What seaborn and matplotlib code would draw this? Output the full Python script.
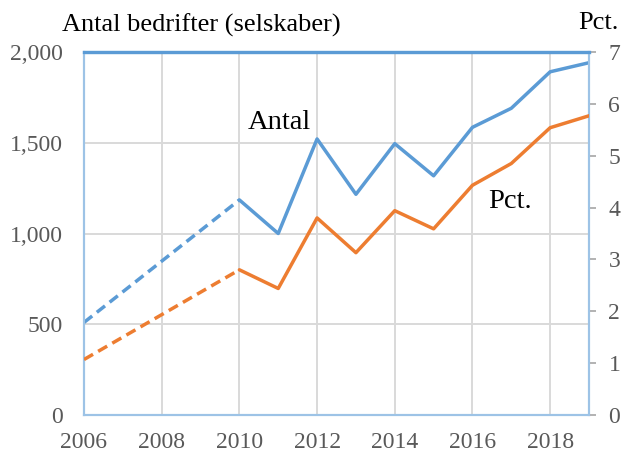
#!/usr/bin/env python3
"""
plot.py - Antal bedrifter og pct., 2006-2019 (two y-axes).
"""

import pandas as pd
import seaborn as sns
import matplotlib.pyplot as plt

# data
years_dashed = [2006, 2010]
antal_dashed = [510, 1185]
pct_dashed = [1.07, 2.80]

years = [2010, 2011, 2012, 2013, 2014, 2015, 2016, 2017, 2018, 2019]
antal = [1185, 1000, 1521, 1216, 1495, 1318, 1585, 1690, 1891, 1941]
pct = [2.80, 2.44, 3.80, 3.13, 3.94, 3.59, 4.43, 4.85, 5.54, 5.77]

x_ticks = [2006, 2008, 2010, 2012, 2014, 2016, 2018]
left_ticks = [0, 500, 1000, 1500, 2000]
left_labels = ["0", "500", "1,000", "1,500", "2,000"]
right_ticks = [0, 1, 2, 3, 4, 5, 6, 7]

BLUE = "#5B9BD5"
ORANGE = "#ED7D31"
GRID = "#D9D9D9"
SPINE = "#9DC3E6"
TXT = "#595959"

sns.set_style("white")
plt.rcParams["font.family"] = ["Liberation Serif", "DejaVu Serif"]

df = pd.DataFrame({"year": years, "antal": antal, "pct": pct})
dfd = pd.DataFrame({"year": years_dashed, "antal": antal_dashed, "pct": pct_dashed})

fig = plt.figure(figsize=(6.24, 4.53), dpi=100)
ax = fig.add_axes([84 / 624, 1 - 415 / 453, (589 - 84) / 624, (415 - 52) / 453])
ax2 = ax.twinx()

# grid
for xv in x_ticks[1:]:
    ax.axvline(xv, color=GRID, lw=1.4, zorder=0)
for yv in left_ticks[1:-1]:
    ax.axhline(yv, color=GRID, lw=1.4, zorder=0)

sns.lineplot(data=df, x="year", y="antal", ax=ax, color=BLUE, lw=2.5, zorder=3)
sns.lineplot(data=dfd, x="year", y="antal", ax=ax, color=BLUE, lw=2.5,
             zorder=3).lines[-1].set_dashes([3.0, 1.7])
sns.lineplot(data=df, x="year", y="pct", ax=ax2, color=ORANGE, lw=2.5, zorder=3)
sns.lineplot(data=dfd, x="year", y="pct", ax=ax2, color=ORANGE, lw=2.5,
             zorder=3).lines[-1].set_dashes([3.0, 1.7])

ax.set_xlim(2006, 2019)
ax.set_ylim(0, 2000)
ax2.set_ylim(0, 7)
ax.set_xticks(x_ticks)
ax.set_yticks(left_ticks)
ax.set_yticklabels(left_labels)
ax2.set_yticks(right_ticks)
for a in (ax, ax2):
    a.set_xlabel("")
    a.set_ylabel("")

ax.tick_params(axis="x", length=0, pad=12, labelsize=17, labelcolor=TXT)
ax.tick_params(axis="y", length=0, pad=15, labelsize=17, labelcolor=TXT)
ax2.tick_params(axis="y", length=5, width=1.2, color="#A6A6A6", pad=9,
                labelsize=17, labelcolor=TXT)

for a in (ax, ax2):
    for s in ("left", "right", "bottom"):
        a.spines[s].set_color(SPINE)
        a.spines[s].set_linewidth(1.5)
    a.spines["top"].set_color(BLUE)
    a.spines["top"].set_linewidth(2.3)
ax2.set_zorder(ax.get_zorder() + 1)
ax2.patch.set_visible(False)

ax.text(2010.22, 1576, "Antal", fontsize=20.5, color="black", ha="left", va="baseline")
ax2.text(2016.4, 3.99, "Pct.", fontsize=20.5, color="black", ha="left", va="baseline")

fig.text(62 / 624, 1 - 32 / 453, "Antal bedrifter (selskaber)", fontsize=19,
         color="black", ha="left", va="baseline")
fig.text(619 / 624, 1 - 29 / 453, "Pct.", fontsize=19, color="black",
         ha="right", va="baseline")

fig.savefig("out.png", dpi=100)
